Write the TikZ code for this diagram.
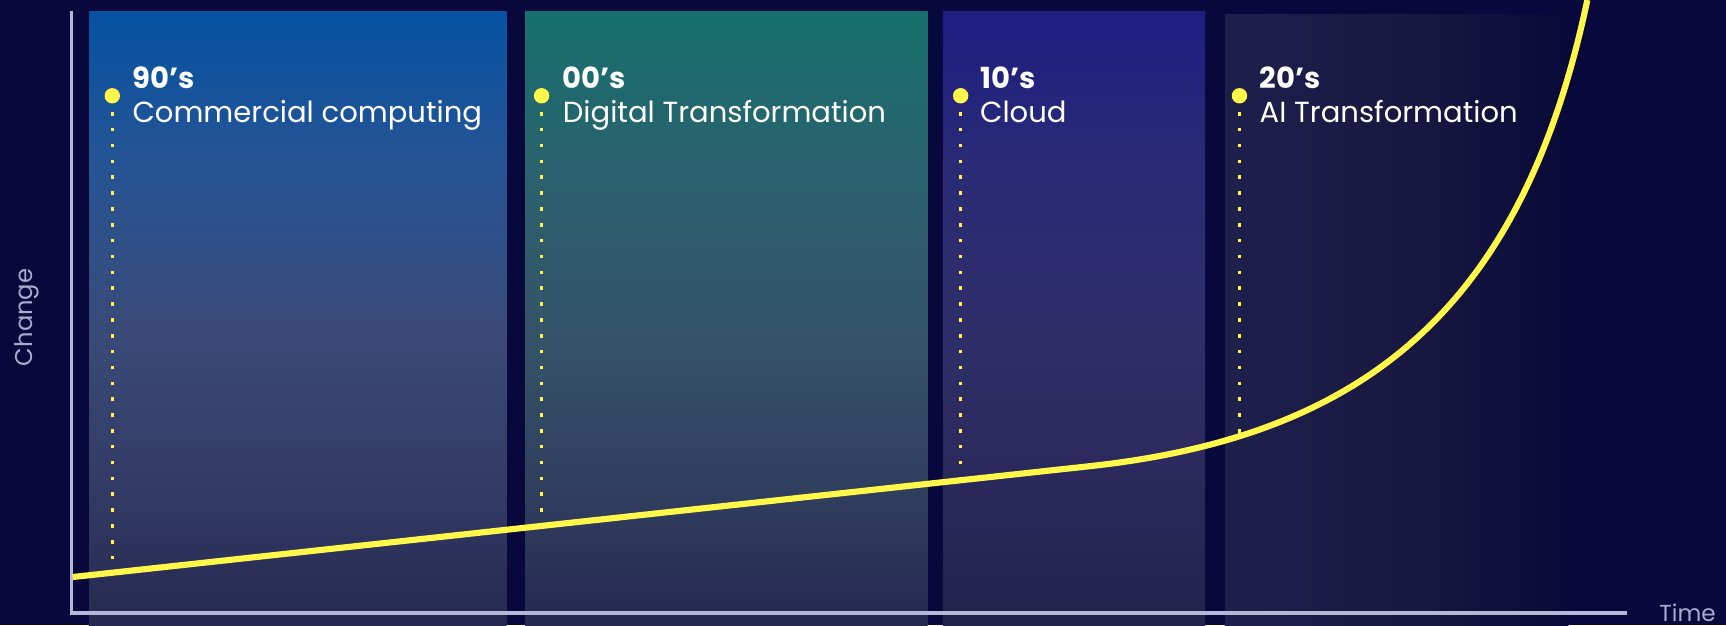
\documentclass[tikz,border=0pt]{standalone}
\usepackage{fontspec}
\setmainfont{Poppins}
\definecolor{bg}{RGB}{8,8,60}
\definecolor{axisc}{RGB}{180,184,216}
\definecolor{axtext}{RGB}{168,172,204}
\definecolor{yel}{RGB}{255,247,74}
% panel 1
\definecolor{pAtop}{RGB}{5,82,162}
\definecolor{pAa}{RGB}{38,84,148}
\definecolor{pAb}{RGB}{58,74,120}
\definecolor{pAc}{RGB}{50,58,100}
\definecolor{pAbot}{RGB}{38,40,80}
% panel 2
\definecolor{pBtop}{RGB}{22,112,110}
\definecolor{pBa}{RGB}{42,98,110}
\definecolor{pBb}{RGB}{52,84,105}
\definecolor{pBc}{RGB}{48,62,94}
\definecolor{pBbot}{RGB}{38,40,80}
% panel 3
\definecolor{pCtop}{RGB}{30,30,130}
\definecolor{pCa}{RGB}{42,42,118}
\definecolor{pCb}{RGB}{48,46,105}
\definecolor{pCc}{RGB}{42,40,90}
\definecolor{pCbot}{RGB}{35,34,76}
% panel 4
\definecolor{pDl}{RGB}{31,31,76}
\definecolor{pDa}{RGB}{28,28,72}
\definecolor{pDb}{RGB}{24,24,66}
\definecolor{pDc}{RGB}{16,16,60}
\definecolor{pDr}{RGB}{10,10,58}
\pgfdeclareverticalshading{pone}{100bp}{color(0bp)=(pAbot); color(25bp)=(pAbot); color(35.6bp)=(pAc); color(49bp)=(pAb); color(62.5bp)=(pAa); color(75bp)=(pAtop); color(100bp)=(pAtop)}
\pgfdeclareverticalshading{ptwo}{100bp}{color(0bp)=(pBbot); color(25bp)=(pBbot); color(35.6bp)=(pBc); color(49bp)=(pBb); color(62.5bp)=(pBa); color(75bp)=(pBtop); color(100bp)=(pBtop)}
\pgfdeclareverticalshading{pthree}{100bp}{color(0bp)=(pCbot); color(25bp)=(pCbot); color(35.6bp)=(pCc); color(49bp)=(pCb); color(62.5bp)=(pCa); color(75bp)=(pCtop); color(100bp)=(pCtop)}
\pgfdeclarehorizontalshading{pfour}{100bp}{color(0bp)=(pDl); color(25bp)=(pDl); color(35.9bp)=(pDa); color(50.5bp)=(pDb); color(65bp)=(pDc); color(73.7bp)=(pDr); color(100bp)=(pDr)}
\begin{document}
\begin{tikzpicture}[x=0.5pt,y=-0.5pt,
  axisline/.style={draw=axisc,line width=1.5pt},
  axislabel/.style={text=axtext,inner sep=0pt,text depth=0pt,font=\fontsize{10.5pt}{12pt}\selectfont},
  curveline/.style={draw=yel,line width=2.8pt,line join=round},
  dotn/.style={circle,fill=yel,inner sep=0pt,minimum size=7pt},
  dotline/.style={draw=yel,line width=1.6pt,dash pattern=on 1.6pt off 5.6pt,dash phase=3.5pt},
  yr/.style={text=white,inner sep=0pt,anchor=base west,font=\fontsize{13.2pt}{16pt}\selectfont\bfseries},
  lbl/.style={text=white,inner sep=0pt,anchor=base west,font=\fontsize{13.2pt}{16pt}\selectfont}]
\useasboundingbox (0,0) rectangle (1568,567.8);
\fill[bg] (0,0) rectangle (1568,567.8);
% panels
\shade[shading=pone] (81,10) rectangle (460.3,567.8);
\shade[shading=ptwo] (477,10) rectangle (842.7,567.8);
\shade[shading=pthree] (856.5,10) rectangle (1094.7,567.8);
\shade[shading=pfour] (1112.8,13) rectangle (1425,567.8);
% axes
\coordinate (top) at (65,10);
\coordinate (origin) at (65,557);
\coordinate (xend) at (1478,557);
\draw[axisline] (top) -- (origin) -- (xend);
\node[axislabel,anchor=base west] (time) at (1507,564.7) {Time};
\node[axislabel,anchor=base west,rotate=90,font=\fontsize{11pt}{13pt}\selectfont] (change) at (29.4,333) {Change};
% dots
\node[dotn] (d1) at (102,87) {};
\node[dotn] (d2) at (492,87) {};
\node[dotn] (d3) at (872.7,87) {};
\node[dotn] (d4) at (1126,87) {};
% curve meeting points
\coordinate (e1) at (102,520);
\coordinate (e2) at (492,477.6);
\coordinate (e3) at (872.7,436);
\coordinate (e4) at (1126,396);
\draw[dotline] (d1.south) -- (e1);
\draw[dotline] (d2.south) -- (e2);
\draw[dotline] (d3.south) -- (e3);
\draw[dotline] (d4.south) -- (e4);
% curve
\coordinate (cs) at (66,524.2);
\coordinate (ck) at (990,423.5);
\coordinate (ca) at (1240,396.3);
\coordinate (cb) at (1383,280);
\coordinate (ce) at (1442,0);
\draw[curveline] (cs) -- (ck) .. controls (ca) and (cb) .. (ce);
% labels
\node[yr] (y1) at (120,80.2) {90’s};
\node[lbl] (l1) at (120,111.5) {Commercial computing};
\node[yr] (y2) at (511,80.2) {00’s};
\node[lbl] (l2) at (511,111.5) {Digital Transformation};
\node[yr] (y3) at (890,80.2) {10’s};
\node[lbl] (l3) at (890,111.5) {Cloud};
\node[yr] (y4) at (1144,80.2) {20’s};
\node[lbl] (l4) at (1144,111.5) {AI Transformation};
\end{tikzpicture}
\end{document}
